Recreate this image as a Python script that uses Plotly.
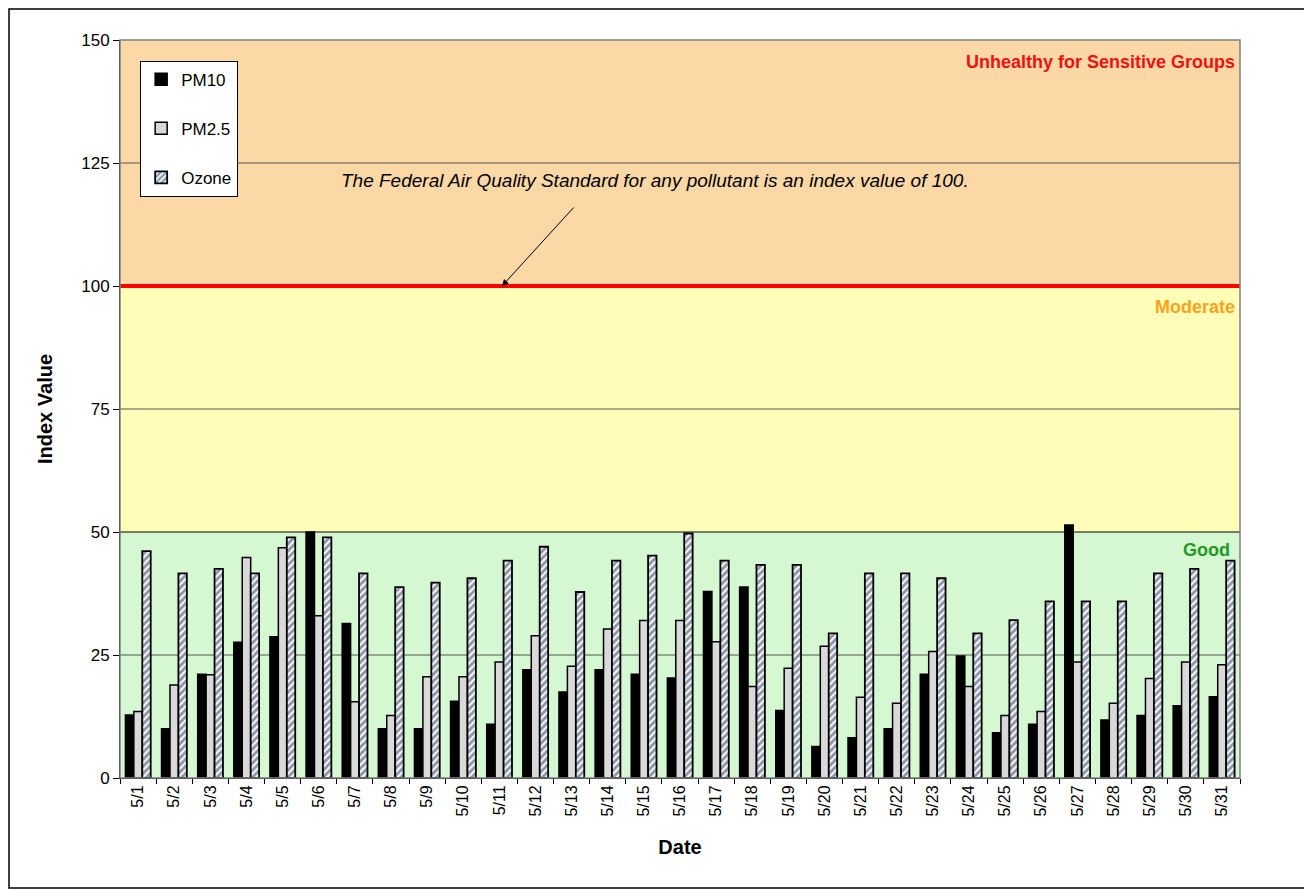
import plotly.graph_objects as go

dates = [f"5/{d}" for d in range(1, 32)]
pm10 = [12.8, 10.0, 21.1, 27.6, 28.7, 50.0, 31.4, 10.0, 10.0, 15.6, 10.9, 22.0, 17.5, 22.0, 21.1, 20.3,
        37.9, 38.8, 13.7, 6.4, 8.2, 10.0, 21.1, 24.8, 9.2, 10.9, 51.4, 11.8, 12.7, 14.7, 16.5]
pm25 = [13.5, 18.9, 21.0, 44.8, 46.8, 33.0, 15.5, 12.7, 20.6, 20.6, 23.6, 28.9, 22.7, 30.3, 32.0, 32.0,
        27.7, 18.6, 22.3, 26.8, 16.4, 15.2, 25.7, 18.6, 12.7, 13.5, 23.6, 15.2, 20.2, 23.6, 23.0]
ozone = [46.1, 41.6, 42.5, 41.6, 48.9, 48.9, 41.6, 38.8, 39.7, 40.6, 44.2, 47.0, 37.8, 44.2, 45.2, 49.7,
         44.2, 43.3, 43.3, 29.4, 41.6, 41.6, 40.6, 29.4, 32.1, 35.9, 35.9, 35.9, 41.6, 42.5, 44.2]

band_edges = [0, 50, 100, 150]
band_colors = ["#d5f7d2", "#fffdb8", "#fcd8a6"]
band_labels = ["Good", "Moderate", "Unhealthy for Sensitive Groups"]
band_label_colors = ["#1e9a1e", "#ffa21a", "#ee1111"]
grid_vals = [25, 75, 125]
standard = 100

W, H = 1304, 882
L, T, PW, PH = 112, 32, 1120, 738

fig = go.Figure()
fig.add_trace(go.Bar(x=dates, y=pm10, name="PM10", legendgroup="a",
                     marker=dict(color="black", line=dict(color="black", width=1.5))))
fig.add_trace(go.Bar(x=dates, y=pm25, name="PM2.5", legendgroup="b",
                     marker=dict(color="#d9d9d9", line=dict(color="black", width=1.5))))
fig.add_trace(go.Bar(x=dates, y=ozone, name="Ozone", legendgroup="c",
                     marker=dict(color="white", line=dict(color="black", width=1.8),
                                 pattern=dict(shape="/", fgcolor="#1d3058", bgcolor="white",
                                              size=5, solidity=0.6))))

shapes = []
for i in range(3):
    shapes.append(dict(type="rect", xref="paper", yref="y", x0=0, x1=1,
                       y0=band_edges[i], y1=band_edges[i + 1], fillcolor=band_colors[i],
                       line=dict(width=0), layer="below"))
for g in grid_vals:
    shapes.append(dict(type="line", xref="paper", yref="y", x0=0, x1=1, y0=g, y1=g,
                       line=dict(color="#555555", width=1), layer="below"))
shapes.append(dict(type="line", xref="paper", yref="y", x0=0, x1=1, y0=50, y1=50,
                   line=dict(color="black", width=1), layer="below"))
shapes.append(dict(type="line", xref="paper", yref="y", x0=0, x1=1, y0=standard, y1=standard,
                   line=dict(color="#ff0000", width=4), layer="below"))
shapes.append(dict(type="rect", xref="paper", yref="paper", x0=0, x1=1, y0=0, y1=1,
                   line=dict(color="#808080", width=1.5), layer="above"))
# outer frame
shapes.append(dict(type="rect", xref="paper", yref="paper",
                   x0=(1 - L) / PW, x1=(1301 - L) / PW, y0=-(H - 2 - T - PH) / PH, y1=1 + (T - 1) / PH,
                   line=dict(color="black", width=1.5), layer="above"))

annotations = []
label_y = [46.4, 95.7, 145.6]
for i in range(3):
    annotations.append(dict(xref="paper", yref="y", x=0.993 if i == 0 else 0.997, y=label_y[i],
                            text=f"<b>{band_labels[i]}</b>",
                            showarrow=False, xanchor="right", yanchor="middle",
                            font=dict(family="Arial", size=18, color=band_label_colors[i])))
annotations.append(dict(xref="paper", yref="y", x=0.478, y=121.4,
                        text="<i>The Federal Air Quality Standard for any pollutant is an index value of 100.</i>",
                        showarrow=False, font=dict(family="Arial", size=19, color="black")))
annotations.append(dict(xref="paper", yref="y", x=(502 - 120) / 1120, y=standard, text="",
                        showarrow=True, ax=73, ay=-80, arrowhead=2, arrowsize=1.3, arrowwidth=1,
                        arrowcolor="black"))

fig.update_layout(
    width=W, height=H,
    margin=dict(l=L, r=W - L - PW, t=T, b=H - T - PH),
    paper_bgcolor="white", plot_bgcolor="white",
    barmode="group", bargap=0.3, bargroupgap=0,
    font=dict(family="Arial", size=16, color="black"),
    shapes=shapes, annotations=annotations,
    showlegend=True,
    legend=dict(x=0.018, y=0.972, xanchor="left", yanchor="top", bgcolor="white",
                bordercolor="black", borderwidth=1, tracegroupgap=24,
                font=dict(family="Arial", size=17), itemwidth=30),
    xaxis=dict(type="category", tickangle=-90, tickson="boundaries", ticks="outside", ticklen=5,
               tickcolor="black", showline=True, linecolor="black", linewidth=1,
               showgrid=False, tickfont=dict(family="Arial", size=16),
               title=dict(text="<b>Date</b>", font=dict(family="Arial", size=20), standoff=24)),
    yaxis=dict(range=[0, 150], tickvals=[0, 25, 50, 75, 100, 125, 150], ticks="outside", ticklen=6,
               tickcolor="black", showline=True, linecolor="black", linewidth=1, showgrid=False,
               zeroline=False, tickfont=dict(family="Arial", size=17),
               title=dict(text="<b>Index Value</b>", font=dict(family="Arial", size=20), standoff=23)),
)

fig.write_html("out.html")
